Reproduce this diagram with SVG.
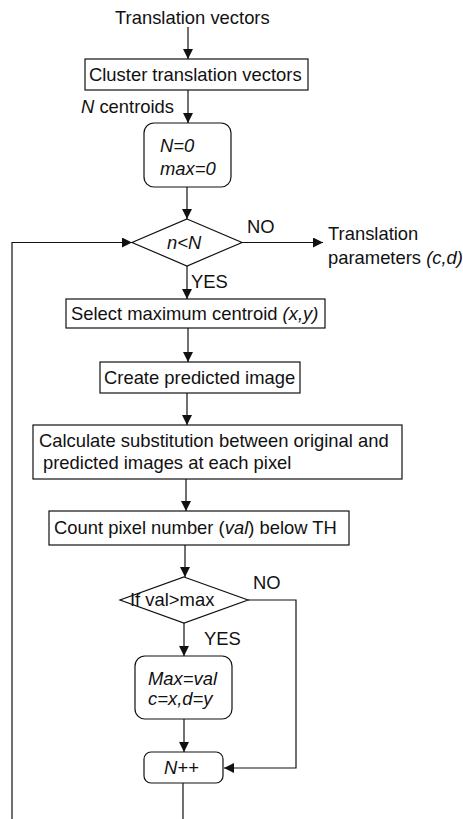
<svg xmlns="http://www.w3.org/2000/svg" width="463" height="819" viewBox="0 0 463 819">
  <style>
    .box { fill: #fff; stroke: #111; stroke-width: 1.2; }
    .ln { fill: none; stroke: #111; stroke-width: 1.2; }
    text { font-family: "Liberation Sans", Arial, sans-serif; font-size: 18.4px; fill: #111; }
    .it { font-style: italic; }
  </style>
  <defs>
    <marker id="ah" markerWidth="10" markerHeight="10" refX="10" refY="5" orient="auto" markerUnits="userSpaceOnUse">
      <path d="M0,0 L10,5 L0,10 Z" fill="#111"/>
    </marker>
  </defs>

  <g id="connectors">
    <line class="ln" x1="188" y1="27" x2="188" y2="59" marker-end="url(#ah)"/>
    <line class="ln" x1="188" y1="90" x2="188" y2="123" marker-end="url(#ah)"/>
    <line class="ln" x1="187" y1="187" x2="187" y2="219" marker-end="url(#ah)"/>
    <line class="ln" x1="242" y1="242.5" x2="323" y2="242.5" marker-end="url(#ah)"/>
    <line class="ln" x1="187" y1="266" x2="187" y2="299" marker-end="url(#ah)"/>
    <line class="ln" x1="188" y1="328" x2="188" y2="362" marker-end="url(#ah)"/>
    <line class="ln" x1="187" y1="393" x2="187" y2="425" marker-end="url(#ah)"/>
    <line class="ln" x1="186" y1="479" x2="186" y2="511" marker-end="url(#ah)"/>
    <line class="ln" x1="185" y1="545" x2="185" y2="577" marker-end="url(#ah)"/>
    <polyline class="ln" points="248,600 296,600 296,768 224,768" marker-end="url(#ah)"/>
    <line class="ln" x1="184" y1="623" x2="184" y2="656" marker-end="url(#ah)"/>
    <line class="ln" x1="184" y1="719" x2="184" y2="752" marker-end="url(#ah)"/>
    <line class="ln" x1="183" y1="783" x2="183" y2="819"/>
    <polyline class="ln" points="12,819 12,242.5 132,242.5" marker-end="url(#ah)"/>
    <text x="247" y="233">NO</text>
    <text x="191" y="288">YES</text>
    <text x="253" y="589">NO</text>
    <text x="204" y="645">YES</text>
    <text x="81" y="113"><tspan class="it">N</tspan> centroids</text>
  </g>

  <g id="input">
    <text x="115" y="24">Translation vectors</text>
  </g>

  <g id="cluster">
    <rect class="box" x="85" y="59" width="223" height="31"/>
    <text x="89" y="81">Cluster translation vectors</text>
  </g>

  <g id="init">
    <rect class="box" x="144" y="123" width="87" height="64" rx="10"/>
    <text class="it" x="160" y="152">N=0</text>
    <text class="it" x="160" y="175">max=0</text>
  </g>

  <g id="loop-test">
    <polygon class="box" points="187,219 242,242.5 187,266 132,242.5"/>
    <text class="it" x="167" y="249">n&lt;N</text>
  </g>

  <g id="output">
    <text x="328" y="240">Translation</text>
    <text x="328" y="264">parameters <tspan class="it">(c,d)</tspan></text>
  </g>

  <g id="select">
    <rect class="box" x="66" y="299" width="259" height="29"/>
    <text x="71" y="320">Select maximum centroid <tspan class="it">(x,y)</tspan></text>
  </g>

  <g id="predict">
    <rect class="box" x="100" y="362" width="200" height="31"/>
    <text x="104" y="384">Create predicted image</text>
  </g>

  <g id="substitute">
    <rect class="box" x="33" y="425" width="369" height="54"/>
    <text x="39" y="447">Calculate substitution between original and</text>
    <text x="43" y="469">predicted images at each pixel</text>
  </g>

  <g id="count">
    <rect class="box" x="49" y="511" width="300" height="34"/>
    <text x="54" y="534">Count pixel number (<tspan class="it">val</tspan>) below TH</text>
  </g>

  <g id="compare">
    <polygon class="box" points="184,577 248,600 184,623 120,600"/>
    <text x="130" y="606">If val&gt;max</text>
  </g>

  <g id="update">
    <rect class="box" x="135" y="656" width="97" height="63" rx="10"/>
    <text class="it" x="148" y="685">Max=val</text>
    <text class="it" x="148" y="705">c=x,d=y</text>
  </g>

  <g id="increment">
    <rect class="box" x="144" y="752" width="79" height="31" rx="7"/>
    <text class="it" x="164" y="774">N++</text>
  </g>
</svg>
